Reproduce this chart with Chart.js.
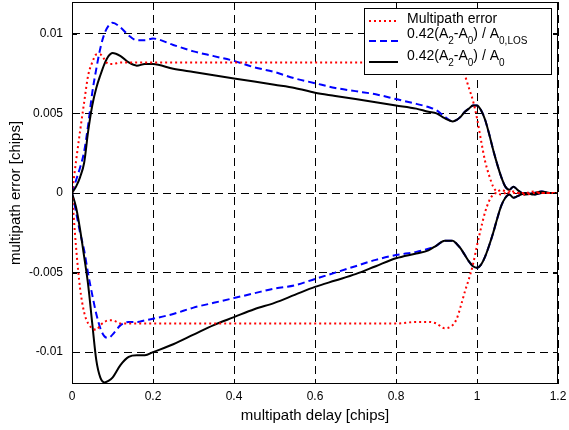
<!DOCTYPE html>
<html lang="en">
<head>
    <meta charset="UTF-8">
    <title>Multipath error</title>
    <style>
        body {
            margin: 0;
            background-color: #fff;
        }
        canvas {
            display: block;
        }
    </style>
</head>
<body>
    <canvas id="chart" width="569" height="430"></canvas>

    <script src="https://cdn.jsdelivr.net/npm/chart.js"></script>
    <script>
        // multipath delay [chips]
        const delays = [
            0, 0.01, 0.02, 0.03, 0.04, 0.05, 0.06, 0.07, 0.08, 0.09,
            0.10, 0.12, 0.14, 0.16, 0.18, 0.20,
            0.25, 0.30, 0.35, 0.40, 0.45, 0.50, 0.55, 0.60, 0.65, 0.70, 0.75, 0.80, 0.85,
            0.88, 0.90, 0.92, 0.94,
            0.95, 0.96, 0.97, 0.98, 0.99, 1.00, 1.01, 1.02, 1.03, 1.04, 1.05, 1.06, 1.07, 1.08, 1.09, 1.10,
            1.12, 1.14, 1.16, 1.18, 1.20
        ];

        // red dotted: multipath error envelope
        const errUpper = [
            0, 0.0020, 0.0039, 0.0057, 0.0074, 0.0082, 0.0087, 0.0087, 0.0084, 0.0081,
            0.0081, 0.0082, 0.0082, 0.0082, 0.0082, 0.0082,
            0.0082, 0.0082, 0.0082, 0.0082, 0.0082, 0.0082, 0.0082, 0.0082, 0.0082, 0.0082, 0.0082, 0.0082, 0.0082,
            0.0082, 0.0082, 0.0082, 0.0082,
            0.0082, 0.0080, 0.0074, 0.0066, 0.0058, 0.0047, 0.0033, 0.0020, 0.0011, 0.0004, 0.0001, 0.0002, 0.0001, 0, 0.0001, 0,
            0, 0.0001, 0, 0, 0
        ];
        const errLower = [
            0, -0.0034, -0.0060, -0.0075, -0.0082, -0.0085, -0.0086, -0.0083, -0.0081, -0.0080,
            -0.0080, -0.0082, -0.0082, -0.0082, -0.0082, -0.0082,
            -0.0082, -0.0082, -0.0082, -0.0082, -0.0082, -0.0082, -0.0082, -0.0082, -0.0082, -0.0082, -0.0082, -0.0082, -0.0081,
            -0.0081, -0.0082, -0.0085, -0.0083,
            -0.0079, -0.0071, -0.0062, -0.0054, -0.0045, -0.0033, -0.0022, -0.0012, -0.0005, -0.0001, 0, -0.0001, 0, 0.0001, 0, 0,
            -0.0001, 0, 0, 0, 0
        ];

        // blue dashed: 0.42(A2-A0)/A0,LOS
        const losUpper = [
            0, 0.0008, 0.0016, 0.0026, 0.0043, 0.0063, 0.0078, 0.0091, 0.0100, 0.0105,
            0.0107, 0.0104, 0.0099, 0.0096, 0.0096, 0.0097,
            0.0093, 0.0089, 0.0086, 0.0083, 0.0079, 0.0076, 0.0072, 0.0069, 0.0066, 0.0064, 0.0062, 0.0059, 0.0056,
            0.0054, 0.0052, 0.0048, 0.0045,
            0.0046, 0.0048, 0.0051, 0.0053, 0.0055, 0.0055, 0.0052, 0.0046, 0.0037, 0.0027, 0.0018, 0.0010, 0.0004, 0.0002, 0.0004, 0.0002,
            -0.0001, 0, 0.0001, 0, 0
        ];
        const losLower = [
            0, -0.0012, -0.0025, -0.0036, -0.0051, -0.0064, -0.0076, -0.0085, -0.0090, -0.0091,
            -0.0089, -0.0083, -0.0081, -0.0081, -0.0080, -0.0079,
            -0.0076, -0.0072, -0.0069, -0.0066, -0.0063, -0.0060, -0.0058, -0.0054, -0.0050, -0.0046, -0.0042, -0.0039, -0.0037,
            -0.0035, -0.0033, -0.0030, -0.0030,
            -0.0032, -0.0035, -0.0039, -0.0043, -0.0046, -0.0047, -0.0045, -0.0040, -0.0033, -0.0025, -0.0016, -0.0008, -0.0003, -0.0001, -0.0003, -0.0002,
            0, -0.0001, 0, 0, 0
        ];

        // black solid: 0.42(A2-A0)/A0
        const ratioUpper = [
            0, 0.0004, 0.0010, 0.0019, 0.0039, 0.0055, 0.0066, 0.0074, 0.0081, 0.0086,
            0.0088, 0.0086, 0.0082, 0.0080, 0.0081, 0.0081,
            0.0078, 0.0076, 0.0074, 0.0072, 0.0070, 0.0068, 0.0066, 0.0063, 0.0061, 0.0059, 0.0057, 0.0055, 0.0053,
            0.0051, 0.0050, 0.0047, 0.0045,
            0.0046, 0.0048, 0.0051, 0.0053, 0.0055, 0.0055, 0.0052, 0.0046, 0.0037, 0.0027, 0.0018, 0.0010, 0.0004, 0.0002, 0.0004, 0.0002,
            -0.0001, 0, 0.0001, 0, 0
        ];
        const ratioLower = [
            0, -0.0009, -0.0023, -0.0040, -0.0058, -0.0082, -0.0105, -0.0116, -0.0119, -0.0118,
            -0.0116, -0.0108, -0.0103, -0.0102, -0.0102, -0.0100,
            -0.0095, -0.0089, -0.0083, -0.0078, -0.0073, -0.0069, -0.0064, -0.0059, -0.0055, -0.0051, -0.0046, -0.0041, -0.0038,
            -0.0036, -0.0033, -0.0030, -0.0030,
            -0.0032, -0.0035, -0.0039, -0.0043, -0.0046, -0.0047, -0.0045, -0.0040, -0.0033, -0.0025, -0.0016, -0.0008, -0.0003, -0.0001, -0.0003, -0.0002,
            0, -0.0001, 0, 0, 0
        ];

        const xTicks = [0, 0.2, 0.4, 0.6, 0.8, 1, 1.2];
        const yTicks = [-0.01, -0.005, 0, 0.005, 0.01];

        const FONT = '"Liberation Sans", Arial, sans-serif';
        Chart.defaults.font.family = FONT;
        Chart.defaults.color = '#000';

        const toPoints = values => delays.map((d, i) => ({ x: d, y: values[i] }));

        function line(values, color, dash) {
            return {
                data: toPoints(values),
                borderColor: color,
                borderWidth: 2,
                borderDash: dash,
                pointRadius: 0,
                fill: false,
                cubicInterpolationMode: 'monotone'
            };
        }

        // first dataset ends up on top
        const datasets = [
            line(errUpper, '#ff0000', [2, 3]),
            line(errLower, '#ff0000', [2, 3]),
            line(ratioUpper, '#000000', []),
            line(ratioLower, '#000000', []),
            line(losUpper, '#0000ff', [7, 4]),
            line(losLower, '#0000ff', [7, 4])
        ];

        const fmt = v => String(Number(v.toFixed(4)));

        // axes box with inward ticks + legend with subscripts
        const boxPlugin = {
            id: 'box',
            afterDatasetsDraw(chart) {
                const { ctx, chartArea: a, scales } = chart;
                ctx.save();
                ctx.strokeStyle = '#000';
                ctx.lineWidth = 1;
                ctx.setLineDash([]);
                ctx.strokeRect(a.left + 0.5, a.top + 0.5, a.right - a.left - 1, a.bottom - a.top - 1);
                ctx.beginPath();
                xTicks.forEach(t => {
                    const px = Math.round(scales.x.getPixelForValue(t)) + 0.5;
                    ctx.moveTo(px, a.bottom); ctx.lineTo(px, a.bottom - 5);
                    ctx.moveTo(px, a.top); ctx.lineTo(px, a.top + 5);
                });
                yTicks.forEach(t => {
                    const py = Math.round(scales.y.getPixelForValue(t)) + 0.5;
                    ctx.moveTo(a.left, py); ctx.lineTo(a.left + 5, py);
                    ctx.moveTo(a.right, py); ctx.lineTo(a.right - 5, py);
                });
                ctx.stroke();
                ctx.restore();
            },
            afterDraw(chart) {
                const ctx = chart.ctx;
                const bx = 364, by = 8, bw = 187, bh = 66;
                ctx.save();
                ctx.fillStyle = '#fff';
                ctx.fillRect(bx, by, bw, bh);
                ctx.strokeStyle = '#000';
                ctx.lineWidth = 1;
                ctx.strokeRect(bx + 0.5, by + 0.5, bw, bh);

                const rows = [
                    { color: '#ff0000', dash: [2, 3], ly: 21, ty: 19, parts: [['Multipath error', 0]] },
                    { color: '#0000ff', dash: [7, 4], ly: 41, ty: 34, parts: [['0.42(A', 0], ['2', 1], ['-A', 0], ['0', 1], [') / A', 0], ['0,LOS', 1]] },
                    { color: '#000000', dash: [], ly: 62, ty: 56, parts: [['0.42(A', 0], ['2', 1], ['-A', 0], ['0', 1], [') / A', 0], ['0', 1]] }
                ];
                rows.forEach(r => {
                    ctx.strokeStyle = r.color;
                    ctx.lineWidth = 2;
                    ctx.setLineDash(r.dash);
                    ctx.beginPath();
                    ctx.moveTo(369, r.ly);
                    ctx.lineTo(398, r.ly);
                    ctx.stroke();

                    ctx.fillStyle = '#000';
                    ctx.textBaseline = 'middle';
                    let x = 407;
                    r.parts.forEach(([txt, sub]) => {
                        ctx.font = sub ? '10px ' + FONT : '14px ' + FONT;
                        ctx.fillText(txt, x, sub ? r.ty + 7 : r.ty);
                        x += ctx.measureText(txt).width;
                    });
                });
                ctx.restore();
            }
        };

        new Chart(document.getElementById('chart'), {
            type: 'line',
            data: { datasets },
            plugins: [boxPlugin],
            options: {
                responsive: false,
                animation: false,
                layout: { padding: { left: 0, right: 11, top: 2, bottom: 0 } },
                plugins: {
                    legend: { display: false },
                    tooltip: { enabled: false }
                },
                scales: {
                    x: {
                        type: 'linear',
                        min: 0,
                        max: 1.2,
                        afterFit: s => { s.height = 46; s.paddingLeft = 0; s.paddingRight = 0; },
                        afterBuildTicks: s => { s.ticks = xTicks.map(v => ({ value: v })); },
                        ticks: { callback: fmt, font: { size: 12 }, padding: 5, maxRotation: 0, autoSkip: false },
                        grid: { color: '#000', lineWidth: 1, drawTicks: false },
                        border: { display: false, dash: [8, 5] },
                        title: { display: true, text: 'multipath delay [chips]', font: { size: 15 }, padding: { top: 0, bottom: 5 } }
                    },
                    y: {
                        min: -0.012,
                        max: 0.012,
                        afterFit: s => { s.width = 72; s.paddingTop = 0; s.paddingBottom = 0; },
                        afterBuildTicks: s => { s.ticks = yTicks.map(v => ({ value: v })); },
                        ticks: { callback: fmt, font: { size: 12 }, padding: 9, autoSkip: false },
                        grid: { color: '#000', lineWidth: 1, drawTicks: false },
                        border: { display: false, dash: [8, 5] },
                        title: { display: true, text: 'multipath error [chips]', font: { size: 15 }, padding: { top: 7, bottom: 0 } }
                    }
                }
            }
        });
    </script>
</body>
</html>
